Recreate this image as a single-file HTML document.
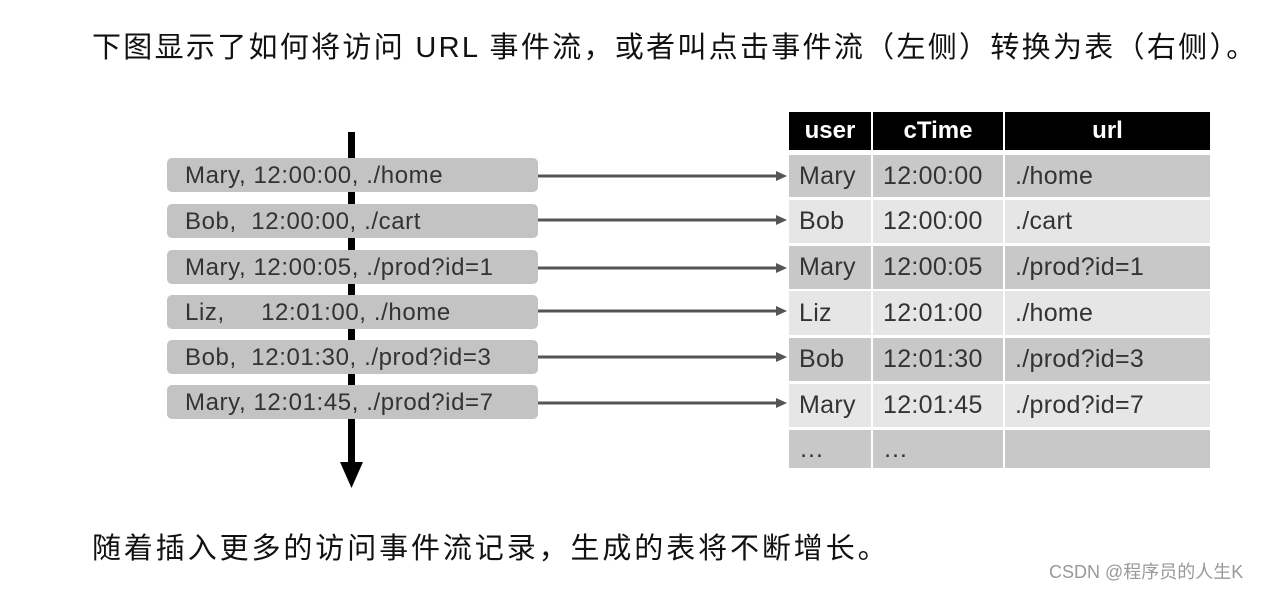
<!DOCTYPE html>
<html><head><meta charset="utf-8"><style>
body{margin:0;width:1269px;height:590px;background:#fff;position:relative;overflow:hidden;font-family:"Liberation Sans","Noto Sans CJK SC",sans-serif}
.t{position:absolute;left:92px;font-size:29px;letter-spacing:2.3px;color:#111;white-space:nowrap;font-family:"Liberation Sans","Noto Sans CJK SC",sans-serif}
.box{position:absolute;left:167px;width:371px;height:34px;background:#c3c3c3;border-radius:5px;font-size:24px;letter-spacing:0.6px;color:#333;line-height:35px;padding-left:18px;box-sizing:border-box;white-space:pre}
.c{position:absolute;font-size:25px;letter-spacing:0.3px;color:#333;line-height:43px;padding-left:10px;box-sizing:border-box}
.h{position:absolute;top:112px;height:38px;background:#000;color:#fff;font-weight:bold;font-size:24px;text-align:center;line-height:38px}
</style></head><body>
<div class="t" style="top:24px">下图显示了如何将访问 URL 事件流，或者叫点击事件流（左侧）转换为表（右侧）。</div>
<div class="t" style="top:525px;letter-spacing:2.9px">随着插入更多的访问事件流记录，生成的表将不断增长。</div>
<div style="position:absolute;left:1049px;top:558px;font-size:18px;color:#999">CSDN @程序员的人生K</div>
<svg style="position:absolute;left:0;top:0" width="1269" height="590">
<rect x="348" y="132" width="7" height="332" fill="#000"/>
<polygon points="340,462 363,462 351.5,488" fill="#000"/>
<g stroke="#555" stroke-width="3" fill="#555">
<line x1="538" y1="176" x2="778" y2="176"/><polygon points="776,171 787,176 776,181" stroke="none"/>
<line x1="538" y1="220" x2="778" y2="220"/><polygon points="776,215 787,220 776,225" stroke="none"/>
<line x1="538" y1="268" x2="778" y2="268"/><polygon points="776,263 787,268 776,273" stroke="none"/>
<line x1="538" y1="311" x2="778" y2="311"/><polygon points="776,306 787,311 776,316" stroke="none"/>
<line x1="538" y1="357" x2="778" y2="357"/><polygon points="776,352 787,357 776,362" stroke="none"/>
<line x1="538" y1="403" x2="778" y2="403"/><polygon points="776,398 787,403 776,408" stroke="none"/>
</g>
</svg>
<div class="box" style="top:158px">Mary, 12:00:00, ./home</div>
<div class="box" style="top:204px">Bob,  12:00:00, ./cart</div>
<div class="box" style="top:250px">Mary, 12:00:05, ./prod?id=1</div>
<div class="box" style="top:295px">Liz,     12:01:00, ./home</div>
<div class="box" style="top:340px">Bob,  12:01:30, ./prod?id=3</div>
<div class="box" style="top:385px">Mary, 12:01:45, ./prod?id=7</div>
<div class="h" style="left:789px;width:82px">user</div>
<div class="h" style="left:873px;width:130px">cTime</div>
<div class="h" style="left:1005px;width:205px">url</div>
<div id="tb"></div>
<script>
var rows=[["Mary","12:00:00","./home"],["Bob","12:00:00","./cart"],["Mary","12:00:05","./prod?id=1"],["Liz","12:01:00","./home"],["Bob","12:01:30","./prod?id=3"],["Mary","12:01:45","./prod?id=7"],["…","…",""]];
var ys=[155,200,246,291,338,384,430],hs=[42,43,43,44,43,43,38];
var cx=[[789,82],[873,130],[1005,205]],h="";
rows.forEach(function(r,i){var bg=i%2==0?"#c8c8c8":"#e6e6e6";
r.forEach(function(v,j){h+='<div class="c" style="left:'+cx[j][0]+'px;top:'+ys[i]+'px;width:'+cx[j][1]+'px;height:'+hs[i]+'px;line-height:'+hs[i]+'px;background:'+bg+'">'+v+'</div>';});});
document.getElementById("tb").innerHTML=h;
</script>
</body></html>
